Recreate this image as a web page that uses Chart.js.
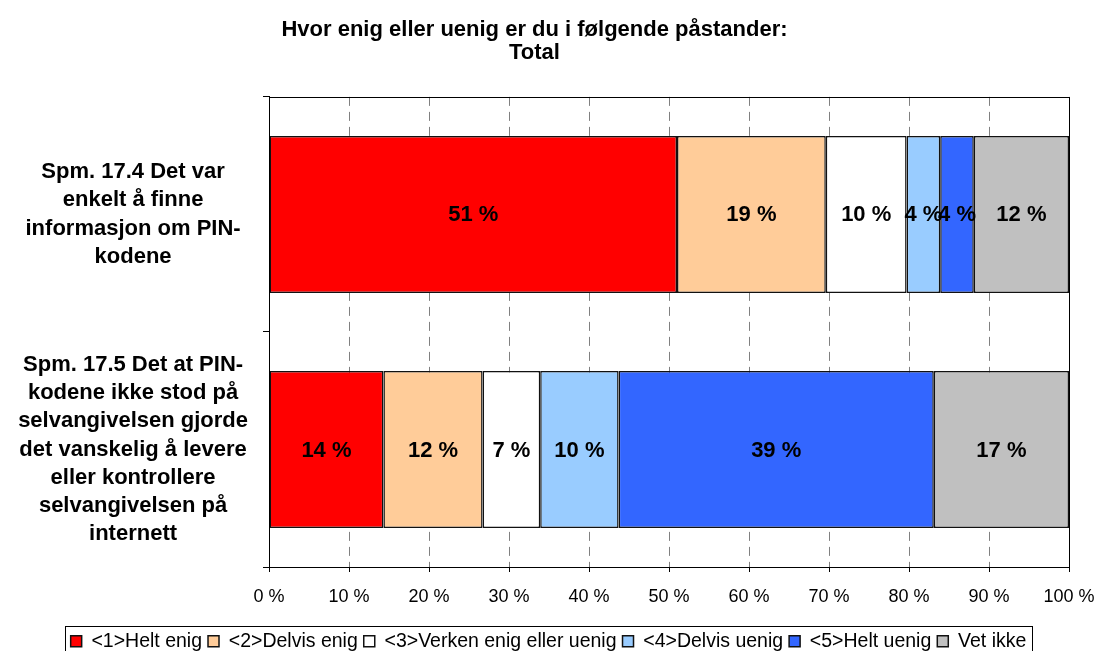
<!DOCTYPE html>
<html><head><meta charset="utf-8">
<script src="https://cdn.jsdelivr.net/npm/chart.js@4/dist/chart.umd.min.js"></script>
<style>html,body{margin:0;padding:0;background:#fff;}#wrap{width:1098px;height:651px;position:relative;}</style>
</head><body><div id="wrap"><canvas id="c" width="1098" height="651"></canvas></div>
<script>
const titleLines = ["Hvor enig eller uenig er du i følgende påstander:", "Total"];
const categories = [
  ["Spm. 17.4 Det var", "enkelt å finne", "informasjon om PIN-", "kodene"],
  ["Spm. 17.5 Det at PIN-", "kodene ikke stod på", "selvangivelsen gjorde", "det vanskelig å levere", "eller kontrollere", "selvangivelsen på", "internett"]
];
const seriesNames = ["<1>Helt enig", "<2>Delvis enig", "<3>Verken enig eller uenig", "<4>Delvis uenig", "<5>Helt uenig", "Vet ikke"];
const heltEnig    = [51.0, 14.3];
const delvisEnig  = [18.6, 12.4];
const verken      = [10.1, 7.2];
const delvisUenig = [4.2, 9.8];
const heltUenig   = [4.2, 39.4];
const vetIkke     = [11.9, 16.9];
const xTickValues = [0, 10, 20, 30, 40, 50, 60, 70, 80, 90, 100];
const seriesColors = ["#FF0000", "#FFCC99", "#FFFFFF", "#99CCFF", "#3366FF", "#C0C0C0"];

const FONT = "'Liberation Sans', Arial, Helvetica, sans-serif";
const seriesValues = [heltEnig, delvisEnig, verken, delvisUenig, heltUenig, vetIkke];

const datasets = seriesNames.map((name, i) => ({
  label: name,
  data: seriesValues[i],
  backgroundColor: seriesColors[i],
  borderColor: "#111",
  borderWidth: 1.5,
  borderSkipped: false,
  categoryPercentage: 1.0,
  barPercentage: 0.668
}));

const barLabels = {
  id: "barLabels",
  afterDatasetsDraw(chart) {
    const ctx = chart.ctx;
    ctx.save();
    ctx.font = "bold 22px " + FONT;
    ctx.fillStyle = "#000";
    ctx.textAlign = "center";
    ctx.textBaseline = "middle";
    chart.data.datasets.forEach((ds, di) => {
      const meta = chart.getDatasetMeta(di);
      meta.data.forEach((el, j) => {
        const v = ds.data[j];
        if (!v) return;
        const p = el.getCenterPoint();
        ctx.fillText(Math.round(v) + " %", p.x, p.y + 1);
      });
    });
    ctx.restore();
  }
};

const legendShift = {
  id: "legendShift",
  afterUpdate(chart) { chart.$legendShifted = false; },
  beforeDraw(chart) {
    if (chart.$legendShifted) return;
    const lg = chart.legend, dx = 14;
    lg.left += dx; lg.right += dx;
    (lg.legendHitBoxes || []).forEach(h => { h.left += dx; });
    chart.$legendShifted = true;
  }
};

const frame = {
  id: "frame",
  afterDraw(chart) {
    const ctx = chart.ctx, a = chart.chartArea;
    ctx.save();
    ctx.strokeStyle = "#000";
    ctx.lineWidth = 1;
    const l = Math.round(a.left) + 0.5, t = Math.round(a.top) + 0.5;
    const r = Math.round(a.right) + 0.5, b = Math.round(a.bottom) + 0.5;
    ctx.strokeRect(l, t, r - l, b - t);
    const hb = chart.legend.legendHitBoxes;
    if (hb && hb.length) {
      const last = hb[hb.length - 1];
      const ll = Math.round(hb[0].left - 6) + 0.5;
      const rr = Math.round(last.left + last.width + 6) + 0.5;
      const tt = Math.round(hb[0].top - 6) + 0.5;
      ctx.strokeRect(ll, tt, rr - ll, 45);
    }
    ctx.restore();
  }
};

new Chart(document.getElementById("c"), {
  type: "bar",
  data: { labels: categories, datasets },
  plugins: [barLabels, legendShift, frame],
  options: {
    indexAxis: "y",
    responsive: false,
    animation: false,
    devicePixelRatio: 1,
    layout: { padding: { left: 0, top: 0, right: 29, bottom: -10 } },
    plugins: {
      title: {
        display: true,
        text: titleLines,
        color: "#000",
        font: { family: FONT, size: 22, weight: "bold", lineHeight: 1.02 },
        padding: { top: 19, bottom: 33 }
      },
      legend: {
        position: "bottom",
        labels: {
          boxWidth: 11, boxHeight: 11, padding: 6, color: "#000",
          font: { family: FONT, size: 19.5 }
        }
      },
      tooltip: { enabled: false }
    },
    scales: {
      x: {
        stacked: true, min: 0, max: 100,
        afterBuildTicks: s => { s.ticks = xTickValues.map(v => ({ value: v })); },
        ticks: { callback: v => v + " %", color: "#000", font: { family: FONT, size: 18 }, padding: 14, maxRotation: 0, autoSkip: false },
        grid: { color: "#808080", lineWidth: 1, tickColor: "#000", tickLength: 5, tickBorderDash: [] },
        border: { display: true, color: "#000", width: 1, dash: [9, 6] },
        afterFit: s => { s.height = 58.5; s.paddingLeft = 0; s.paddingRight = 0; }
      },
      y: {
        stacked: true,
        ticks: { crossAlign: "center", padding: 15, color: "#000", autoSkip: false, font: { family: FONT, size: 22, weight: "bold", lineHeight: 1.28 } },
        grid: { drawOnChartArea: false, offset: true, tickLength: 6, color: "#000", tickColor: "#000" },
        border: { display: true, color: "#000", width: 1 },
        afterFit: s => { s.width = 269; s.paddingTop = 0; s.paddingBottom = 0; }
      }
    }
  }
});
</script>
</body></html>
